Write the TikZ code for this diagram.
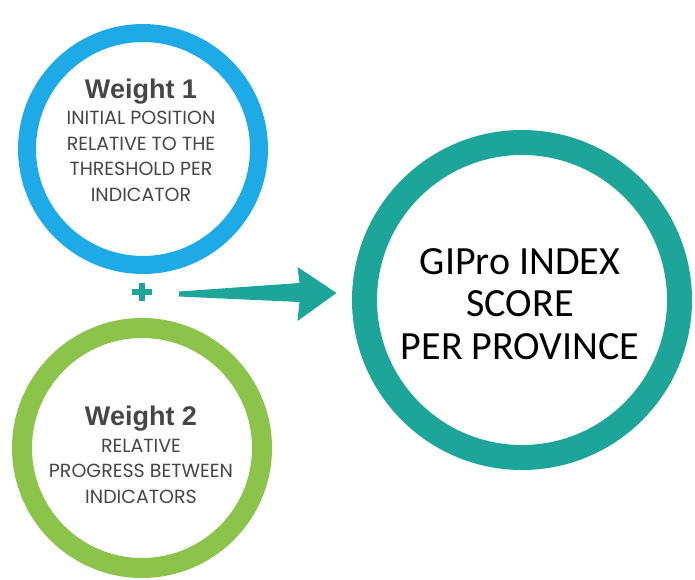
\documentclass[tikz,border=0pt]{standalone}
\usepackage{fontspec}
\usetikzlibrary{calc}
\newfontfamily\titlefont{Liberation Sans}
\newfontfamily\descfont{Poppins}
\newfontfamily\scorefont{Carlito}
\definecolor{wblue}{RGB}{30,170,230}
\definecolor{wgreen}{RGB}{140,196,75}
\definecolor{wteal}{RGB}{28,165,152}
\definecolor{wgray}{RGB}{70,70,70}
\tikzstyle{ring} = [draw,circle,inner sep=0pt,outer sep=0pt,fill=white]
\tikzstyle{wtitle} = [anchor=base,inner sep=0pt,text=wgray,font=\titlefont\bfseries\fontsize{27}{30}\selectfont]
\tikzstyle{wdesc} = [anchor=base,inner sep=0pt,align=center,text=wgray,font=\descfont\fontsize{19}{25.5}\selectfont]
\tikzstyle{score} = [anchor=base,inner sep=0pt,align=center,font=\scorefont\fontsize{40}{42.5}\selectfont]

\begin{document}
\begin{tikzpicture}[x=1pt,y=-1pt]
			\useasboundingbox (0,0) rectangle (695,580);
			
			%% circles
			\node[ring,draw=wblue,line width=18pt,minimum size=232pt] (w1) at (143,149) {};
			\node[ring,draw=wgreen,line width=20pt,minimum size=240pt] (w2) at (142,448) {};
			\node[ring,draw=wteal,line width=25pt,minimum size=315pt] (gip) at (522,300) {};
			
			%% texts (base of a multi-line node = its last line)
			\node[wtitle] (w1title) at (141,99) {Weight 1};
			\node[wdesc] (w1desc) at (141,201) {INITIAL POSITION\\RELATIVE TO THE\\THRESHOLD PER\\INDICATOR};
			\node[wtitle] (w2title) at (141,425) {Weight 2};
			\node[wdesc] (w2desc) at (141,503) {RELATIVE\\PROGRESS BETWEEN\\INDICATORS};
			\node[score] (gipscore) at (520,359) {GIPro INDEX\\SCORE\\PER PROVINCE};
			
			%% plus and arrow
			\coordinate (plus) at (142,292);
			\draw[wteal,line width=6pt] ($(plus)+(-10,0)$) -- ($(plus)+(10,0)$) ($(plus)+(0,-9)$) -- ($(plus)+(0,9)$);
			\coordinate (tail) at (179,294); \coordinate (tip) at ($(gip.west)+(-28,-7)$);
			\fill[wteal] ($(tail)+(0,-2.5)$) -- ($(tip)+(-37,-10)$) -- ($(tip)+(-39,-26)$) -- (tip)
				-- ($(tip)+(-39,28)$) -- ($(tip)+(-37,9)$) -- ($(tail)+(0,2.5)$) -- cycle;
		\end{tikzpicture}
\end{document}
